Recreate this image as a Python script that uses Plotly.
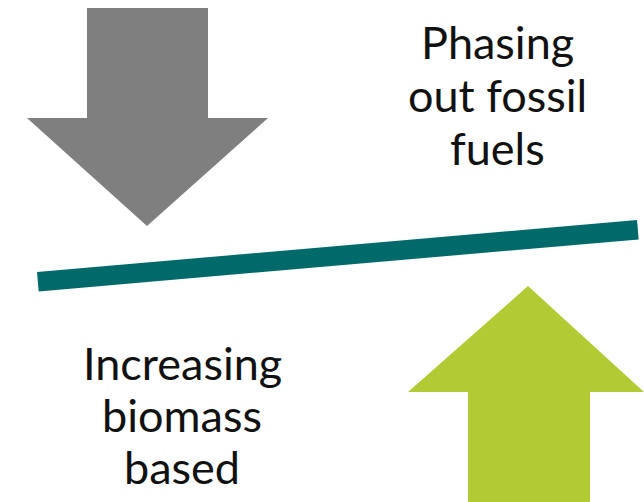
import plotly.graph_objects as go

W, H = 644, 502

# Shapes (pixel coordinates of vertices, y downward)
down_arrow_x = [87, 208, 208, 268, 147, 27, 87, 87]
down_arrow_y = [8, 8, 118, 118, 226, 118, 118, 8]

up_arrow_x = [528, 644, 590, 590, 468, 468, 408, 528]
up_arrow_y = [286, 392, 392, 502, 502, 392, 392, 286]

beam_x = [37, 637, 638.7, 38.7, 37]
beam_y = [272, 220, 239.4, 291.4, 272]

right_lines = ["Phasing", "out fossil", "fuels"]
right_line_y = [42, 95, 148]
right_x = 497

left_lines = ["Increasing", "biomass", "based"]
left_line_y = [363, 415, 467]
left_x = 182

GRAY = "#7f7f7f"
TEAL = "#006a6b"
GREEN = "#b2ca34"

fig = go.Figure()
fig.add_trace(go.Scatter(x=down_arrow_x, y=down_arrow_y, fill="toself", mode="lines",
                         fillcolor=GRAY, line=dict(width=0, color=GRAY), hoverinfo="skip"))
fig.add_trace(go.Scatter(x=up_arrow_x, y=up_arrow_y, fill="toself", mode="lines",
                         fillcolor=GREEN, line=dict(width=0, color=GREEN), hoverinfo="skip"))
fig.add_trace(go.Scatter(x=beam_x, y=beam_y, fill="toself", mode="lines",
                         fillcolor=TEAL, line=dict(width=0, color=TEAL), hoverinfo="skip"))

font = dict(family="Lato", size=45, color="#111111")
for t, y in zip(right_lines, right_line_y):
    fig.add_annotation(x=right_x, y=y, text=t, showarrow=False, font=font,
                       xanchor="center", yanchor="middle")
for t, y in zip(left_lines, left_line_y):
    fig.add_annotation(x=left_x, y=y, text=t, showarrow=False, font=font,
                       xanchor="center", yanchor="middle")

fig.update_layout(
    width=W, height=H, margin=dict(l=0, r=0, t=0, b=0),
    paper_bgcolor="white", plot_bgcolor="white", showlegend=False,
    xaxis=dict(range=[0, W], visible=False, fixedrange=True),
    yaxis=dict(range=[H, 0], visible=False, fixedrange=True),
)
fig.write_html("out.html", config={"displayModeBar": False},
               post_script="document.body.style.margin='0';document.body.style.overflow='hidden';")
